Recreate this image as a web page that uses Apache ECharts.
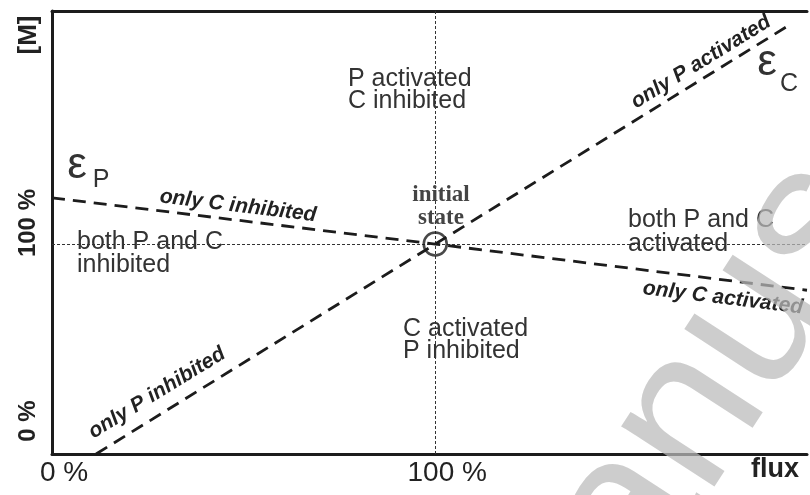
<!DOCTYPE html>
<html>
<head>
<meta charset="utf-8">
<script src="https://cdn.jsdelivr.net/npm/echarts@6/dist/echarts.min.js"></script>
<style>html,body{margin:0;padding:0;background:#fff}#c{width:810px;height:495px}</style>
</head>
<body>
<div id="c"></div>
<script>
// ---- data ----
const xTicks = [0, 100];
const xTickLabels = ['0 %', '100 %'];
const yTicks = [0, 100];
const yTickLabels = ['0 %', '100 %'];
const epsCLine = [[11.5, 0], [100, 100], [193, 205]];
const epsPLine = [[0, 122], [100, 100], [197, 78]];
const initialState = [[100, 100]];
const refFlux = 100;
const refConc = 100;

const chart = echarts.init(document.getElementById('c'), null, {renderer: 'canvas'});
const ink = '#1c1c1c';
const sans = "'Liberation Sans', Arial, sans-serif";
const narrow = "'Liberation Sans Narrow', 'Liberation Sans', Arial, sans-serif";

function regionText(txt, x, y, lh, align) {
  return {type: 'text', x: x, y: y, z: 50,
    style: {text: txt, fill: '#333', font: '25px ' + sans, lineHeight: lh,
      textAlign: align || 'left', textVerticalAlign: 'middle'}};
}
function lineText(txt, x, y, rot) {
  return {type: 'text', x: x, y: y, rotation: rot, z: 50,
    style: {text: txt, fill: '#222', font: 'italic bold 21px ' + sans,
      textAlign: 'center', textVerticalAlign: 'middle'}};
}
function plainText(txt, x, y, font, rot) {
  return {type: 'text', x: x, y: y, rotation: rot || 0, z: 50,
    style: {text: txt, fill: '#333', font: font, textAlign: 'center', textVerticalAlign: 'middle'}};
}

const option = {
  backgroundColor: '#fff',
  animation: false,
  grid: {left: 52, right: 0, top: 11, bottom: 41},
  xAxis: [{
    type: 'value', min: 0, max: 197, interval: 100,
    axisLine: {show: true, lineStyle: {color: ink, width: 3}},
    axisTick: {show: false}, splitLine: {show: false},
    axisLabel: {
      margin: 5, color: '#222', fontFamily: narrow, fontSize: 28,
      padding: [0, 0, 0, 24],
      formatter: v => { const i = xTicks.indexOf(v); return i >= 0 ? xTickLabels[i] : ''; }
    }
  }, {
    type: 'value', position: 'top', min: 0, max: 197,
    axisLine: {show: true, onZero: false, lineStyle: {color: ink, width: 3}},
    axisTick: {show: false}, splitLine: {show: false}, axisLabel: {show: false}
  }],
  yAxis: {
    type: 'value', min: 0, max: 211, interval: 100,
    axisLine: {show: true, lineStyle: {color: ink, width: 3}},
    axisTick: {show: false}, splitLine: {show: false},
    axisLabel: {
      rotate: 90, margin: 12, color: '#222', fontFamily: narrow, fontWeight: 'bold', fontSize: 24,
      formatter: v => { const i = yTicks.indexOf(v); if (i < 0) return ''; return (i === 0 ? '{z|' : '{h|') + yTickLabels[i] + '}'; },
      rich: {
        z: {fontFamily: narrow, fontWeight: 'bold', fontSize: 24, color: '#222', padding: [0, 0, 0, 66]},
        h: {fontFamily: narrow, fontWeight: 'bold', fontSize: 24, color: '#222', padding: [0, 0, 0, 42]}
      }
    }
  },
  series: [{
    type: 'line', data: epsCLine, symbol: 'none', z: 5,
    lineStyle: {color: ink, width: 2.8, type: [13, 8]},
    markLine: {
      silent: true, symbol: 'none', label: {show: false},
      lineStyle: {color: '#333', width: 1, type: [3, 2]},
      data: [{xAxis: refFlux}, {yAxis: refConc}]
    }
  }, {
    type: 'line', data: epsPLine, symbol: 'none', z: 5,
    lineStyle: {color: ink, width: 2.8, type: [13, 8]}
  }, {
    type: 'scatter', data: initialState, symbol: 'circle', symbolSize: 23, z: 6,
    itemStyle: {color: 'rgba(0,0,0,0)', borderColor: ink, borderWidth: 2.6}
  }],
  graphic: [
    regionText('P activated\nC inhibited', 348, 90.5, 22),
    regionText('both P and C\ninhibited', 77, 253.5, 23),
    regionText('both P and C\nactivated', 628, 232, 24),
    regionText('C activated\nP inhibited', 403, 340, 22),
    {type: 'text', x: 441, y: 207, z: 50,
      style: {text: 'initial\nstate', fill: '#444', font: 'bold 23px "Liberation Serif", "Times New Roman", serif',
        lineHeight: 23, textAlign: 'center', textVerticalAlign: 'middle'}},
    lineText('only C inhibited', 238, 206, -0.122),
    lineText('only C activated', 723, 298, -0.122),
    lineText('only P activated', 701, 62, 0.55),
    lineText('only P inhibited', 157, 393, 0.55),
    plainText('ε', 77, 166, '44px ' + sans),
    plainText('P', 101, 180, '25px ' + sans),
    plainText('ε', 767, 63, '44px ' + sans),
    plainText('C', 789, 84, '25px ' + sans),
    {type: 'text', x: 29, y: 35, rotation: Math.PI / 2, z: 50,
      style: {text: '[M]', fill: '#222', font: 'bold 26px ' + sans, textAlign: 'center', textVerticalAlign: 'middle'}},
    {type: 'text', x: 775, y: 470, z: 50,
      style: {text: 'flux', fill: '#222', font: 'bold 27px ' + sans, textAlign: 'center', textVerticalAlign: 'middle'}},
    {type: 'text', x: 499, y: 712, rotation: 0.995, z: 100,
      style: {text: 'Manuscript', fill: 'rgba(186,186,186,0.73)', font: '210px ' + sans,
        textAlign: 'left', textVerticalAlign: 'middle'}}
  ]
};
chart.setOption(option);
</script>
</body>
</html>
